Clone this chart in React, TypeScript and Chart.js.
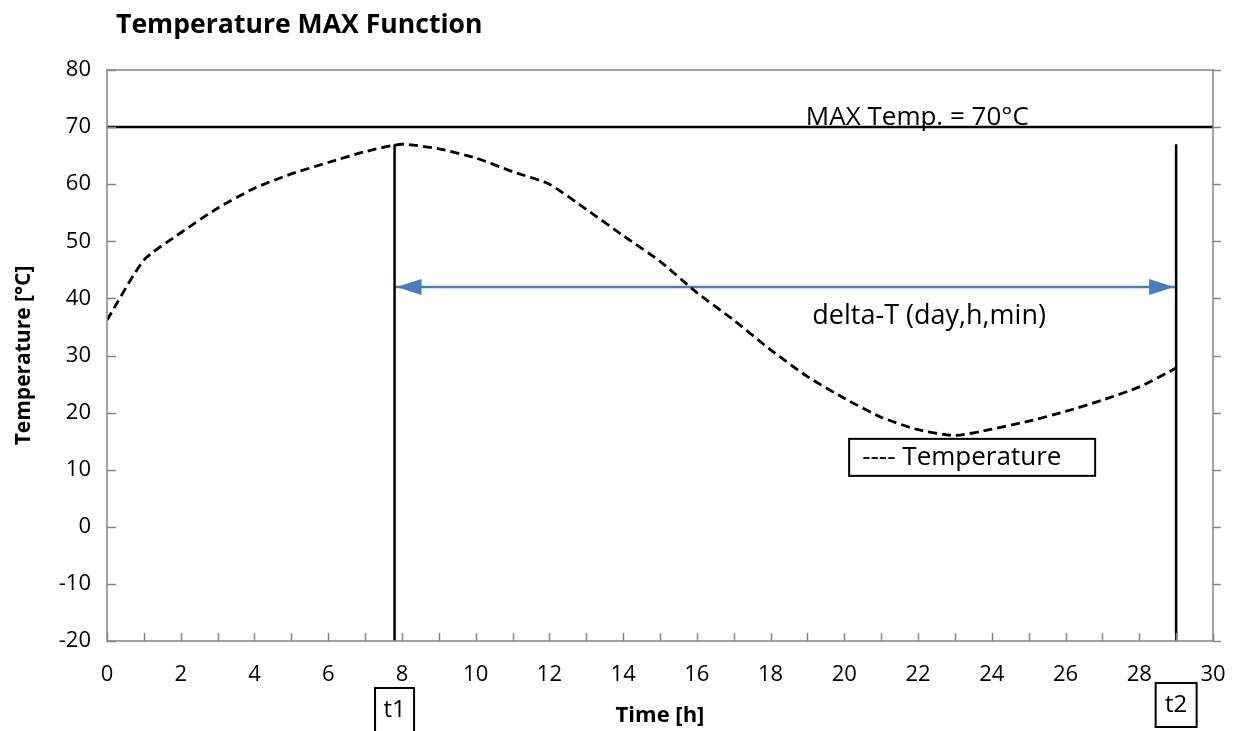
import React, { useEffect, useRef } from "react";
import { Chart, registerables } from "chart.js";

Chart.register(...registerables);

// ---- data ----
const hours: number[] = [0, 1, 2, 3, 4, 5, 6, 7, 8, 9, 10, 11, 12, 13, 14, 15, 16, 17, 18, 19, 20, 21, 22, 23, 24, 25, 26, 27, 28, 29];
const temperature: number[] = [36.2, 46.7, 51.5, 55.8, 59.3, 61.8, 63.8, 65.7, 67, 66.2, 64.6, 62.2, 60, 55.6, 51, 46.5, 41, 36.2, 31, 26.3, 22.5, 19.2, 17, 16, 17.1, 18.5, 20.2, 22.2, 24.5, 27.8];
const maxTemp = 70;
const t1Time = 7.8;
const t2Time = 29;
const markerTop = 67;
const deltaLevel = 42;
const xRange: number[] = [0, 30];
const yRange: number[] = [-20, 80];
const xTickStep = 2;
const yTickStep = 10;

const chartTitle = "Temperature MAX Function";
const xTitle = "Time [h]";
const yTitle = "Temperature [°C]";
const maxLabel = "MAX Temp. = 70°C";
const deltaLabel = "delta-T (day,h,min)";
const legendLabel = "---- Temperature";
const t1Label = "t1";
const t2Label = "t2";

const FONT = "'Open Sans', Lato, sans-serif";
const AXIS_GRAY = "#868686";
const ARROW_BLUE = "#4a7ebb";

const overlayPlugin = {
  id: "overlay",
  afterDatasetsDraw(chart: any) {
    const { ctx, scales } = chart;
    const xs = scales.x;
    const ys = scales.y;
    ctx.save();
    // arrow heads
    const yA = ys.getPixelForValue(deltaLevel);
    const xL = xs.getPixelForValue(t1Time) + 2;
    const xR = xs.getPixelForValue(t2Time) - 2;
    ctx.fillStyle = ARROW_BLUE;
    ctx.beginPath();
    ctx.moveTo(xL, yA);
    ctx.lineTo(xL + 25, yA - 8);
    ctx.lineTo(xL + 25, yA + 8);
    ctx.closePath();
    ctx.fill();
    ctx.beginPath();
    ctx.moveTo(xR, yA);
    ctx.lineTo(xR - 25, yA - 8);
    ctx.lineTo(xR - 25, yA + 8);
    ctx.closePath();
    ctx.fill();

    // texts
    ctx.fillStyle = "#000";
    ctx.font = `26px ${FONT}`;
    ctx.textAlign = "center";
    ctx.textBaseline = "alphabetic";
    ctx.fillText(maxLabel, xs.getPixelForValue(21.98), ys.getPixelForValue(maxTemp) - 2);
    ctx.font = `27px ${FONT}`;
    ctx.textBaseline = "middle";
    ctx.fillText(deltaLabel, xs.getPixelForValue(22.3), ys.getPixelForValue(36.9));

    // legend box
    const lx = xs.getPixelForValue(20.13);
    const ly = ys.getPixelForValue(15.4);
    ctx.fillStyle = "#fff";
    ctx.fillRect(lx, ly, 246, 37);
    ctx.strokeStyle = "#000";
    ctx.lineWidth = 2;
    ctx.strokeRect(lx, ly, 246, 37);
    ctx.fillStyle = "#000";
    ctx.font = `26px ${FONT}`;
    ctx.textAlign = "left";
    ctx.fillText(legendLabel, lx + 13, ly + 19);
    ctx.restore();
  },
  afterDraw(chart: any) {
    const { ctx, chartArea, scales } = chart;
    const xs = scales.x;
    const ys = scales.y;
    ctx.save();
    // frame
    ctx.strokeStyle = AXIS_GRAY;
    ctx.lineWidth = 1.5;
    ctx.strokeRect(chartArea.left, chartArea.top, chartArea.right - chartArea.left, chartArea.bottom - chartArea.top);
    // y ticks (inward on left, outward on right)
    ctx.beginPath();
    for (let v = yRange[0]; v <= yRange[1]; v += yTickStep) {
      const py = Math.round(ys.getPixelForValue(v)) + 0.5;
      ctx.moveTo(chartArea.left, py);
      ctx.lineTo(chartArea.left + 9, py);
      ctx.moveTo(chartArea.right, py);
      ctx.lineTo(chartArea.right + 8, py);
    }
    // x minor ticks (every hour, inward)
    for (let v = xRange[0]; v <= xRange[1]; v += 1) {
      const px = Math.round(xs.getPixelForValue(v)) + 0.5;
      ctx.moveTo(px, chartArea.bottom);
      ctx.lineTo(px, chartArea.bottom - 8);
    }
    ctx.stroke();

    // chart title
    ctx.fillStyle = "#000";
    ctx.font = `bold 26.6px ${FONT}`;
    ctx.textAlign = "left";
    ctx.textBaseline = "alphabetic";
    ctx.fillText(chartTitle, 116, 33);

    // t1 / t2 boxes
    const drawBox = (label: string, t: number, top: number, w: number) => {
      const cx = xs.getPixelForValue(t);
      const h = 44;
      ctx.fillStyle = "#fff";
      ctx.fillRect(cx - w / 2, top, w, h);
      ctx.strokeStyle = "#000";
      ctx.lineWidth = 2;
      ctx.strokeRect(cx - w / 2, top, w, h);
      ctx.fillStyle = "#000";
      ctx.font = `24px ${FONT}`;
      ctx.textAlign = "center";
      ctx.textBaseline = "middle";
      ctx.fillText(label, cx, top + h / 2);
    };
    drawBox(t1Label, t1Time, 688, 39);
    drawBox(t2Label, t2Time, 683, 41);
    ctx.restore();
  },
};

export default function App() {
  const ref = useRef<HTMLCanvasElement | null>(null);
  useEffect(() => {
    document.body.style.margin = "0";
    const canvas = ref.current;
    if (!canvas) return;
    const chart = new Chart(canvas, {
      type: "scatter",
      data: {
        datasets: [
          {
            label: "Temperature",
            data: hours.map((h, i) => ({ x: h, y: temperature[i] })),
            showLine: true,
            borderColor: "#000",
            borderWidth: 2.8,
            borderDash: [9, 5],
            pointRadius: 0,
            tension: 0.2,
          },
          {
            label: "MAX",
            data: [
              { x: xRange[0], y: maxTemp },
              { x: xRange[1], y: maxTemp },
            ],
            showLine: true,
            borderColor: "#000",
            borderWidth: 2.5,
            pointRadius: 0,
          },
          {
            label: "t1",
            data: [
              { x: t1Time, y: yRange[0] },
              { x: t1Time, y: markerTop },
            ],
            showLine: true,
            borderColor: "#000",
            borderWidth: 2.5,
            pointRadius: 0,
          },
          {
            label: "t2",
            data: [
              { x: t2Time, y: yRange[0] },
              { x: t2Time, y: markerTop },
            ],
            showLine: true,
            borderColor: "#000",
            borderWidth: 2.5,
            pointRadius: 0,
          },
          {
            label: "delta",
            data: [
              { x: t1Time, y: deltaLevel },
              { x: t2Time, y: deltaLevel },
            ],
            showLine: true,
            borderColor: ARROW_BLUE,
            borderWidth: 2.5,
            pointRadius: 0,
          },
        ],
      },
      options: {
        responsive: false,
        animation: false,
        events: [],
        layout: { padding: { top: 70, right: 25, left: 0, bottom: 0 } },
        plugins: {
          legend: { display: false },
          title: { display: false },
          tooltip: { enabled: false },
        },
        scales: {
          x: {
            type: "linear",
            min: xRange[0],
            max: xRange[1],
            grid: { display: false, drawTicks: false },
            border: { display: false },
            ticks: {
              stepSize: xTickStep,
              color: "#000",
              padding: 21,
              maxRotation: 0,
              font: { family: FONT, size: 22 },
            },
            title: {
              display: true,
              text: xTitle,
              color: "#000",
              font: { family: FONT, size: 22, weight: "bold" },
              padding: { top: 0, bottom: 2 },
            },
            afterFit: (s: any) => {
              s.height = 90;
              s.paddingLeft = 0;
              s.paddingRight = 0;
            },
          },
          y: {
            type: "linear",
            min: yRange[0],
            max: yRange[1],
            grid: { display: false, drawTicks: false },
            border: { display: false },
            ticks: {
              stepSize: yTickStep,
              color: "#000",
              padding: 16,
              font: { family: FONT, size: 22 },
            },
            title: {
              display: true,
              text: yTitle,
              color: "#000",
              font: { family: FONT, size: 21, weight: "bold" },
              padding: { top: 11, bottom: 0 },
            },
            afterFit: (s: any) => {
              s.width = 107;
              s.paddingTop = 0;
              s.paddingBottom = 0;
            },
          },
        },
      },
      plugins: [overlayPlugin],
    });
    return () => chart.destroy();
  }, []);
  return (
    <div style={{ position: "absolute", left: 0, top: 0, width: 1238, height: 731, background: "#fff" }}>
      <canvas ref={ref} width={1238} height={731} />
    </div>
  );
}
